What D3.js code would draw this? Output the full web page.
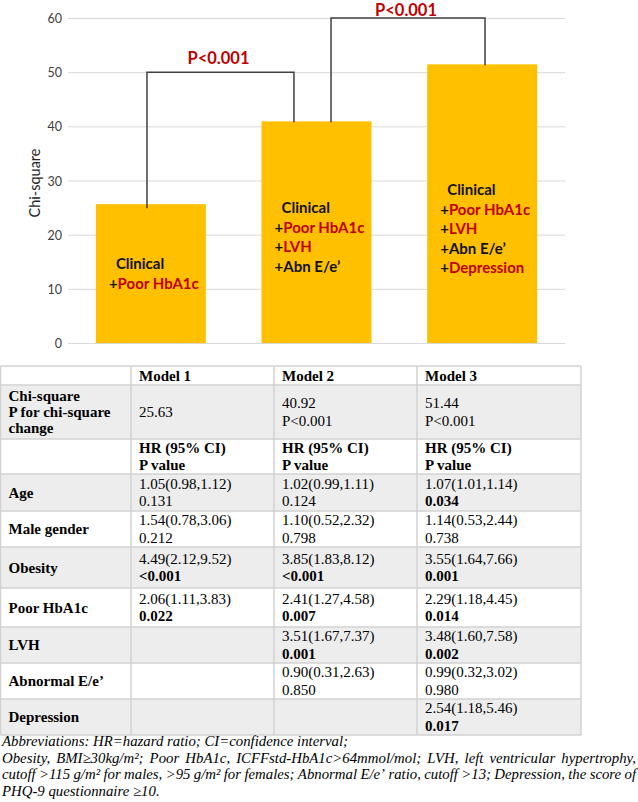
<!DOCTYPE html>
<html><head><meta charset="utf-8">
<script src="https://cdn.jsdelivr.net/npm/d3@7"></script>
<style>body{margin:0;background:#fff} svg{display:block}</style>
</head><body><svg id="chart" width="638" height="802"></svg>
<script>
// ---------------- DATA ----------------
const models = ["Model 1", "Model 2", "Model 3"];
const chiSquare = [25.63, 40.92, 51.44];
const chiChange = ["", "P<0.001", "P<0.001"];
const yTicks = [0, 10, 20, 30, 40, 50, 60];
const yTitle = "Chi-square";
const barLabels = [
  ["Clinical", "+Poor HbA1c"],
  ["Clinical", "+Poor HbA1c", "+LVH", "+Abn E/e’"],
  ["Clinical", "+Poor HbA1c", "+LVH", "+Abn E/e’", "+Depression"]
];
const highlighted = ["Poor HbA1c", "LVH", "Depression"];
const labelAnchorValue = [12.7, 19.5, 21];
const comparisons = [
  { from: 0, to: 1, level: 50, text: "P<0.001" },
  { from: 1, to: 2, level: 60, text: "P<0.001" }
];
const variables = ["Age", "Male gender", "Obesity", "Poor HbA1c", "LVH", "Abnormal E/e’", "Depression"];
const hrModel1 = ["1.05(0.98,1.12)", "1.54(0.78,3.06)", "4.49(2.12,9.52)", "2.06(1.11,3.83)", "", "", ""];
const pModel1  = ["0.131", "0.212", "<0.001", "0.022", "", "", ""];
const hrModel2 = ["1.02(0.99,1.11)", "1.10(0.52,2.32)", "3.85(1.83,8.12)", "2.41(1.27,4.58)", "3.51(1.67,7.37)", "0.90(0.31,2.63)", ""];
const pModel2  = ["0.124", "0.798", "<0.001", "0.007", "0.001", "0.850", ""];
const hrModel3 = ["1.07(1.01,1.14)", "1.14(0.53,2.44)", "3.55(1.64,7.66)", "2.29(1.18,4.45)", "3.48(1.60,7.58)", "0.99(0.32,3.02)", "2.54(1.18,5.46)"];
const pModel3  = ["0.034", "0.738", "0.001", "0.014", "0.002", "0.980", "0.017"];
const chiRowLabel = ["Chi-square", "P for chi-square", "change"];
const hrHeader = ["HR (95% CI)", "P value"];
const footnote = [
  "Abbreviations: HR=hazard ratio; CI=confidence interval;",
  "Obesity, BMI≥30kg/m²; Poor HbA1c, ICFFstd-HbA1c>64mmol/mol; LVH, left ventricular hypertrophy,",
  "cutoff >115 g/m² for males, >95 g/m² for females; Abnormal E/e’ ratio, cutoff >13; Depression, the score of",
  "PHQ-9 questionnaire ≥10."
];

// ---------------- CHART ----------------
const svg = d3.select("#chart");
const RED = "#C00000", GOLD = "#FFC000";
const sans = "Lato, 'Noto Sans', sans-serif";
const serif = "'Liberation Serif', 'Times New Roman', serif";

const x = d3.scaleBand().domain(models).range([68, 565]).paddingInner(0.336).paddingOuter(0.168);
const y = d3.scaleLinear().domain([0, 60]).range([343, 18]);

const yAxis = d3.axisLeft(y).tickValues(yTicks).tickSize(-(565 - 68)).tickPadding(6);
const gAxis = svg.append("g").attr("transform", "translate(68,0)").call(yAxis);
gAxis.select(".domain").remove();
gAxis.selectAll(".tick line").attr("stroke", "#d9d9d9").attr("stroke-width", 1);
gAxis.selectAll(".tick text").attr("font-family", sans).attr("font-size", 12.5)
  .attr("fill", "#404040").attr("dy", "0.36em").attr("x", -6);

svg.append("text").attr("transform", "translate(40,183) rotate(-90)")
  .attr("text-anchor", "middle").attr("font-family", sans).attr("font-size", 14.5)
  .attr("fill", "#262626").text(yTitle);

svg.append("g").selectAll("rect").data(chiSquare).join("rect")
  .attr("x", (d, i) => x(models[i])).attr("width", x.bandwidth())
  .attr("y", d => y(d)).attr("height", d => y(0) - y(d)).attr("fill", GOLD);

barLabels.forEach((lines, i) => {
  const g = svg.append("g");
  const lh = 19.5;
  const cy = y(labelAnchorValue[i]);
  const top = cy - (lines.length - 1) * lh / 2 + 5;
  lines.forEach((ln, j) => {
    const t = g.append("text").attr("y", top + j * lh).attr("font-family", sans)
      .attr("font-weight", 700).attr("font-size", 15).attr("fill", "#111")
      .attr("x", ln.startsWith("+") ? 0 : 7);
    if (ln.startsWith("+")) {
      const rest = ln.slice(1);
      t.append("tspan").text("+");
      t.append("tspan").attr("fill", highlighted.includes(rest) ? RED : "#111").text(rest);
    } else t.text(ln);
  });
  let w = 0;
  g.selectAll("text").each(function () { w = Math.max(w, this.getComputedTextLength()); });
  const cx = x(models[i]) + x.bandwidth() / 2;
  g.attr("transform", `translate(${cx - w / 2 + 3},0)`);
});

const legFrac = [[0.465, 0.295], [0.632, 0.526]];
comparisons.forEach((c, k) => {
  const x1 = x(models[c.from]) + x.bandwidth() * legFrac[k][0];
  const x2 = x(models[c.to]) + x.bandwidth() * legFrac[k][1];
  const yl = y(c.level);
  const y1 = y(chiSquare[c.from]) + (k === 0 ? 4 : 1);
  const y2 = y(chiSquare[c.to]) + 1;
  svg.append("path").attr("d", `M${x1},${y1}V${yl}H${x2}V${y2}`)
    .attr("fill", "none").attr("stroke", "#404040").attr("stroke-width", 1.5);
  svg.append("text").attr("x", (x1 + x2) / 2 - 2).attr("y", Math.max(yl - 8.5, 16))
    .attr("text-anchor", "middle").attr("font-family", sans).attr("font-weight", 700)
    .attr("font-size", 16.5).attr("fill", RED).text(c.text);
});

// ---------------- TABLE ----------------
const colEdges = [0.5, 131, 274, 417, 581];
const rowHeights = [19, 54, 35, 37, 36, 41, 39, 36, 36, 36];
const tableTop = 366;
const hrCols = [hrModel1, hrModel2, hrModel3];
const pCols = [pModel1, pModel2, pModel3];
const isSig = p => p && (p.startsWith("<") || parseFloat(p) < 0.05);

const rows = [];
rows.push({ label: [], cells: models.map(m => [{ t: m, b: true }]) });
rows.push({ label: chiRowLabel, lh: 16, cells: chiSquare.map((c, i) =>
  chiChange[i] ? [{ t: c.toFixed(2) }, { t: chiChange[i] }] : [{ t: c.toFixed(2) }]) });
rows.push({ label: [], cells: models.map(() => hrHeader.map(h => ({ t: h, b: true }))) });
variables.forEach((v, r) => {
  rows.push({ label: [v], cells: models.map((m, c) =>
    hrCols[c][r] ? [{ t: hrCols[c][r] }, { t: pCols[c][r], b: isSig(pCols[c][r]) }] : []) });
});

const tg = svg.append("g");
let yy = tableTop;
const rowTops = [];
rows.forEach((row, r) => {
  rowTops.push(yy);
  const h = rowHeights[r];
  if (r % 2 === 1) tg.append("rect").attr("x", colEdges[0]).attr("y", yy)
    .attr("width", colEdges[4] - colEdges[0]).attr("height", h).attr("fill", "#ededed");
  const cy = yy + h / 2 + 5;
  const drawCell = (items, ci, lh) => {
    const n = items.length;
    items.forEach((it, j) => {
      tg.append("text").attr("x", colEdges[ci] + 8).attr("y", cy + (j - (n - 1) / 2) * lh)
        .attr("font-family", serif).attr("font-size", 15).attr("fill", "#000")
        .attr("font-weight", it.b ? 700 : 400).text(it.t);
    });
  };
  drawCell(row.label.map(t => ({ t, b: true })), 0, row.lh || 17.5);
  row.cells.forEach((cell, c) => drawCell(cell, c + 1, 17.5));
  yy += h;
});
rowTops.push(yy);
const lineCol = "#d2d2d2";
rowTops.forEach(t => tg.append("line").attr("x1", colEdges[0]).attr("x2", colEdges[4])
  .attr("y1", t).attr("y2", t).attr("stroke", lineCol).attr("stroke-width", 1.5));
colEdges.forEach(cx => tg.append("line").attr("x1", cx).attr("x2", cx)
  .attr("y1", tableTop).attr("y2", yy).attr("stroke", lineCol).attr("stroke-width", 1.5));

// ---------------- FOOTNOTE ----------------
const fg = svg.append("g");
const fnTop = 746, fnLh = 16.7, fnLeft = 2, fnRight = 636, fnSize = 14.8;
footnote.forEach((ln, i) => {
  const by = fnTop + i * fnLh;
  const justify = i === 1 || i === 2;
  if (!justify) {
    fg.append("text").attr("x", fnLeft).attr("y", by).attr("font-family", serif)
      .attr("font-style", "italic").attr("font-size", fnSize).attr("fill", "#000").text(ln);
    return;
  }
  const words = ln.split(" ");
  const nodes = words.map(w => fg.append("text").attr("y", by).attr("font-family", serif)
    .attr("font-style", "italic").attr("font-size", fnSize).attr("fill", "#000").text(w));
  const widths = nodes.map(n => n.node().getComputedTextLength());
  const gap = (fnRight - fnLeft - d3.sum(widths)) / (words.length - 1);
  let cx = fnLeft;
  nodes.forEach((n, k) => { n.attr("x", cx); cx += widths[k] + gap; });
});
</script></body></html>
